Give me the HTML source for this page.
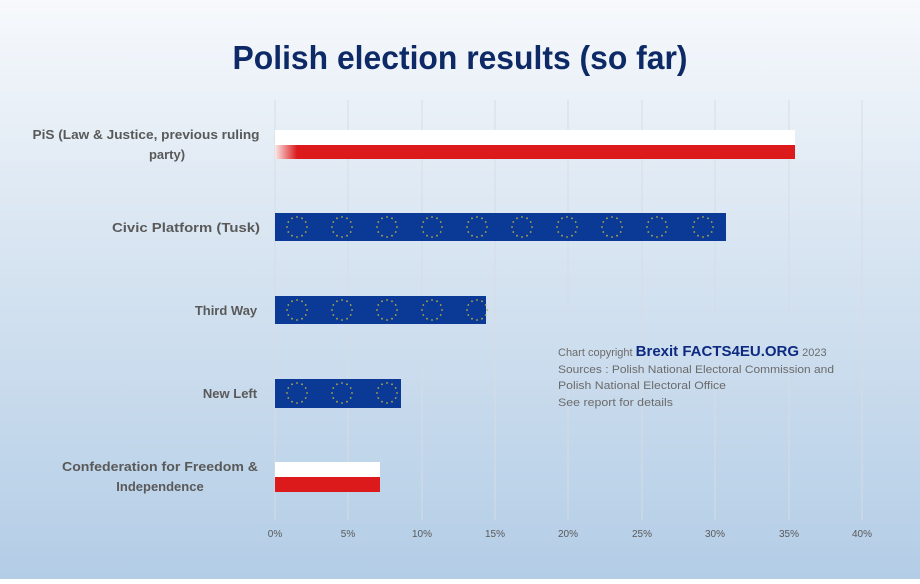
<!DOCTYPE html>
<html><head><style>
body{margin:0;width:920px;height:579px;overflow:hidden;font-family:"Liberation Sans",sans-serif}
</style></head><body>
<svg width="920" height="579" xmlns="http://www.w3.org/2000/svg" font-family="Liberation Sans, sans-serif">
<defs>
<linearGradient id="bg" x1="0" y1="0" x2="0" y2="1">
<stop offset="0" stop-color="#f7f9fc"/><stop offset="0.35" stop-color="#dde8f3"/><stop offset="1" stop-color="#b3cde6"/>
</linearGradient>
<linearGradient id="fade" x1="0" y1="0" x2="1" y2="0">
<stop offset="0" stop-color="#fff" stop-opacity="0.9"/><stop offset="1" stop-color="#fff" stop-opacity="0"/>
</linearGradient>
<g id="stars" fill="#b8aa40">
<circle cx="0" cy="-10" r="0.9"/><circle cx="5" cy="-8.7" r="0.9"/><circle cx="8.7" cy="-5" r="0.9"/><circle cx="10" cy="0" r="0.9"/><circle cx="8.7" cy="5" r="0.9"/><circle cx="5" cy="8.7" r="0.9"/><circle cx="0" cy="10" r="0.9"/><circle cx="-5" cy="8.7" r="0.9"/><circle cx="-8.7" cy="5" r="0.9"/><circle cx="-10" cy="0" r="0.9"/><circle cx="-8.7" cy="-5" r="0.9"/><circle cx="-5" cy="-8.7" r="0.9"/>
</g>
</defs>
<rect width="920" height="579" fill="url(#bg)"/>
<text x="460" y="69" text-anchor="middle" font-size="33" font-weight="bold" fill="#0e2a66" textLength="455" lengthAdjust="spacingAndGlyphs">Polish election results (so far)</text>
<g stroke="#d6dce4" stroke-width="1">
<line x1="275" y1="100" x2="275" y2="520"/><line x1="348" y1="100" x2="348" y2="520"/><line x1="422" y1="100" x2="422" y2="520"/><line x1="495" y1="100" x2="495" y2="520"/><line x1="568" y1="100" x2="568" y2="520"/><line x1="642" y1="100" x2="642" y2="520"/><line x1="715" y1="100" x2="715" y2="520"/><line x1="789" y1="100" x2="789" y2="520"/><line x1="862" y1="100" x2="862" y2="520"/>
</g>
<rect x="275" y="130" width="520" height="15" fill="#fff"/>
<rect x="275" y="145" width="520" height="14" fill="#dc1a1c"/>
<rect x="275" y="130" width="22" height="29" fill="url(#fade)"/>
<rect x="275" y="213" width="451" height="28" fill="#0a3a96"/>
<g><use href="#stars" x="297" y="227"/><use href="#stars" x="342" y="227"/><use href="#stars" x="387" y="227"/><use href="#stars" x="432" y="227"/><use href="#stars" x="477" y="227"/><use href="#stars" x="522" y="227"/><use href="#stars" x="567" y="227"/><use href="#stars" x="612" y="227"/><use href="#stars" x="657" y="227"/><use href="#stars" x="703" y="227"/></g>
<rect x="275" y="296" width="211" height="28" fill="#0a3a96"/>
<g><use href="#stars" x="297" y="310"/><use href="#stars" x="342" y="310"/><use href="#stars" x="387" y="310"/><use href="#stars" x="432" y="310"/><use href="#stars" x="477" y="310"/></g>
<rect x="275" y="379" width="126" height="29" fill="#0a3a96"/>
<g><use href="#stars" x="297" y="393"/><use href="#stars" x="342" y="393"/><use href="#stars" x="387" y="393"/></g>
<rect x="275" y="462" width="105" height="15" fill="#fff"/>
<rect x="275" y="477" width="105" height="15" fill="#dc1a1c"/>
<g font-size="13" font-weight="bold" fill="#595959" text-anchor="middle">
<text x="146" y="139" textLength="227" lengthAdjust="spacingAndGlyphs">PiS (Law &amp; Justice, previous ruling</text>
<text x="167" y="159">party)</text>
<text x="186" y="232" textLength="148" lengthAdjust="spacingAndGlyphs">Civic Platform (Tusk)</text>
<text x="226" y="315">Third Way</text>
<text x="230" y="398">New Left</text>
<text x="160" y="471" textLength="196" lengthAdjust="spacingAndGlyphs">Confederation for Freedom &amp;</text>
<text x="160" y="491">Independence</text>
</g>
<g font-size="10" fill="#595959" text-anchor="middle">
<text x="275" y="537">0%</text><text x="348" y="537">5%</text><text x="422" y="537">10%</text><text x="495" y="537">15%</text><text x="568" y="537">20%</text><text x="642" y="537">25%</text><text x="715" y="537">30%</text><text x="789" y="537">35%</text><text x="862" y="537">40%</text>
</g>
<g font-size="11" fill="#6b6b6b">
<text x="558" y="356">Chart copyright <tspan font-size="15" font-weight="bold" fill="#0e2a80">Brexit FACTS4EU.ORG</tspan> 2023</text>
<text x="558" y="373" textLength="276" lengthAdjust="spacingAndGlyphs">Sources : Polish National Electoral Commission and</text>
<text x="558" y="389" textLength="168" lengthAdjust="spacingAndGlyphs">Polish National Electoral Office</text>
<text x="558" y="406" textLength="115" lengthAdjust="spacingAndGlyphs">See report for details</text>
</g>
</svg>
</body></html>
